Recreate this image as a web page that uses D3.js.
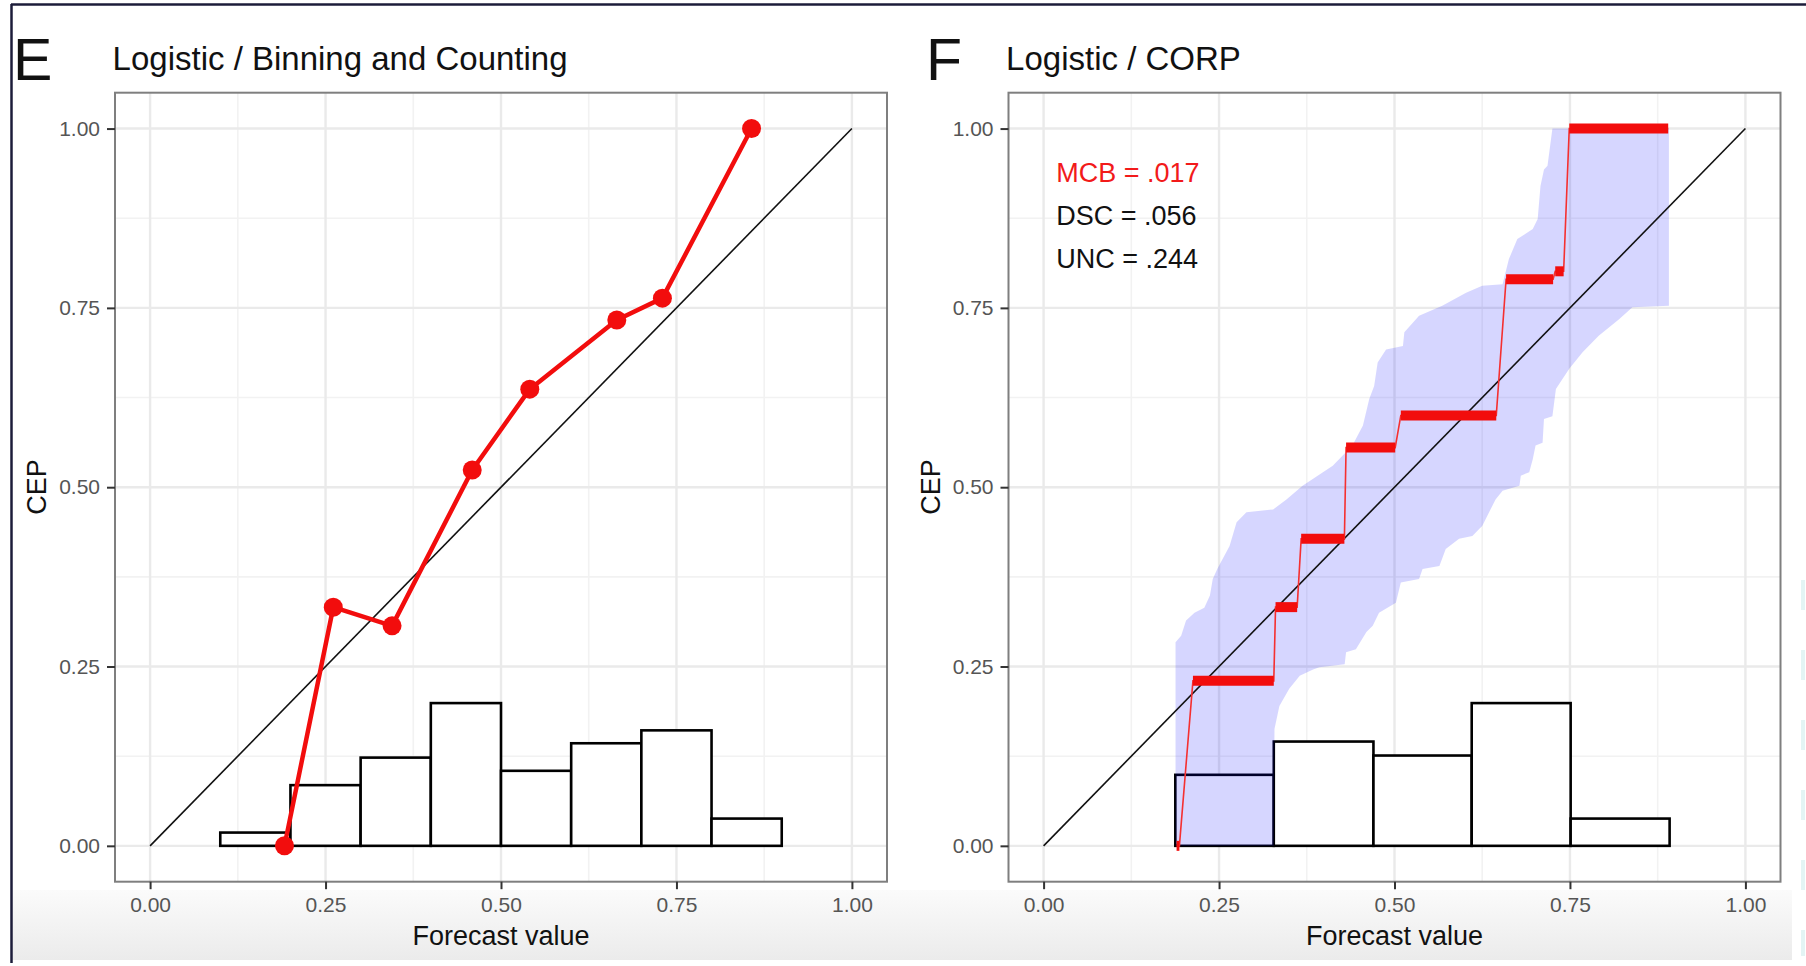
<!DOCTYPE html>
<html>
<head>
<meta charset="utf-8">
<script src="https://cdnjs.cloudflare.com/ajax/libs/d3/7.8.5/d3.min.js"></script>
<style>
  body { margin: 0; background: #fff; }
  svg { display: block; font-family: 'Liberation Sans', Arial, Helvetica, sans-serif; }
</style>
</head>
<body>
<script>
let w = 1806;
let h = 966;

// axis ticks (both panels)
let tickValues = [0, 0.25, 0.5, 0.75, 1];
let tickLabels = ['0.00', '0.25', '0.50', '0.75', '1.00'];
let minorTicks = [0.125, 0.375, 0.625, 0.875];

// panel E: binning and counting
let binX = [0.1915, 0.261, 0.3448, 0.459, 0.541, 0.665, 0.730, 0.857];
let binY = [0.0, 0.3327, 0.3067, 0.524, 0.6367, 0.733, 0.7636, 1.0];
let histEdgesE = [0, 0.1, 0.2, 0.3, 0.4, 0.5, 0.6, 0.7, 0.8, 0.9, 1.0];
let histE = [0, 0.0185, 0.0846, 0.123, 0.199, 0.1046, 0.143, 0.161, 0.038, 0];

// panel F: CORP
let histEdgesF = [0.1877, 0.328, 0.470, 0.610, 0.751, 0.892];
let histF = [0.099, 0.1454, 0.1259, 0.199, 0.038];
let corpX0 = [0.1895, 0.2128, 0.3305, 0.367, 0.431, 0.509, 0.659, 0.729, 0.749];
let corpX1 = [0.1935, 0.328, 0.3613, 0.4286, 0.501, 0.645, 0.726, 0.741, 0.890];
let corpY = [0, 0.230, 0.3328, 0.428, 0.5552, 0.600, 0.790, 0.801, 1.0];
let bandUpX = [0.188, 0.196, 0.203, 0.215, 0.229, 0.237, 0.241, 0.248, 0.265, 0.275,
  0.289, 0.327, 0.346, 0.369, 0.412, 0.440, 0.455, 0.464, 0.471, 0.476,
  0.488, 0.512, 0.514, 0.535, 0.568, 0.602, 0.625, 0.654, 0.663, 0.675,
  0.697, 0.704, 0.708, 0.713, 0.718, 0.725, 0.891];
let bandUpY = [0.284, 0.293, 0.314, 0.325, 0.332, 0.349, 0.372, 0.387, 0.418, 0.451,
  0.465, 0.469, 0.483, 0.502, 0.530, 0.558, 0.586, 0.623, 0.641, 0.674,
  0.692, 0.697, 0.716, 0.739, 0.753, 0.771, 0.781, 0.783, 0.818, 0.846,
  0.860, 0.874, 0.920, 0.943, 0.948, 1.0, 1.0];
let bandLoX = [0.188, 0.328, 0.329, 0.336, 0.350, 0.365, 0.384, 0.393, 0.429, 0.431,
  0.445, 0.460, 0.469, 0.478, 0.502, 0.509, 0.535, 0.540, 0.564, 0.573,
  0.592, 0.611, 0.621, 0.625, 0.644, 0.654, 0.678, 0.680, 0.692, 0.697,
  0.701, 0.711, 0.713, 0.725, 0.730, 0.749, 0.768, 0.791, 0.820, 0.839, 0.891];
let bandLoY = [0, 0, 0.163, 0.195, 0.219, 0.237, 0.246, 0.249, 0.253, 0.270,
  0.274, 0.298, 0.307, 0.325, 0.339, 0.367, 0.372, 0.386, 0.390, 0.414,
  0.428, 0.432, 0.442, 0.446, 0.483, 0.495, 0.502, 0.516, 0.521, 0.539,
  0.558, 0.562, 0.595, 0.599, 0.637, 0.665, 0.688, 0.711, 0.734, 0.751, 0.753];
let statLabels = ['MCB = .017', 'DSC = .056', 'UNC = .244'];
let statColors = ['#f21a1a', '#111', '#111'];

let svg = d3.select('body')
  .append('svg')
  .attr('width', w)
  .attr('height', h);

svg.append('rect')
  .attr('width', w)
  .attr('height', h)
  .attr('fill', '#fff');

// soft grey strip at the bottom of the screenshot
let grad = svg.append('defs')
  .append('linearGradient')
  .attr('id', 'bottom-fade')
  .attr('x1', 0).attr('y1', 0)
  .attr('x2', 0).attr('y2', 1);
grad.append('stop').attr('offset', '0%').attr('stop-color', '#fbfbfb');
grad.append('stop').attr('offset', '100%').attr('stop-color', '#ebebeb');

svg.append('rect')
  .attr('x', 12)
  .attr('y', 890)
  .attr('width', 1780)
  .attr('height', 70)
  .attr('fill', 'url(#bottom-fade)');

// outer frame (top and left edges)
svg.append('line')
  .attr('x1', 11).attr('y1', 4.5)
  .attr('x2', w).attr('y2', 4.5)
  .attr('stroke', '#1c1c3a')
  .attr('stroke-width', 2.5);
svg.append('line')
  .attr('x1', 11.5).attr('y1', 4)
  .attr('x2', 11.5).attr('y2', 963)
  .attr('stroke', '#1c1c3a')
  .attr('stroke-width', 2.5);

svg.append('line')
  .attr('x1', 1803).attr('y1', 580)
  .attr('x2', 1803).attr('y2', 956)
  .attr('stroke', '#e3f4f4')
  .attr('stroke-width', 4)
  .attr('stroke-dasharray', '30 40');

function makePanel(left, tagX, tag, title) {
  let top = 92.7;
  let bottom = 881.7;
  let right = left + 772;

  let x = d3.scaleLinear().domain([-0.05, 1.05]).range([left, right]);
  let y = d3.scaleLinear().domain([-0.05, 1.05]).range([bottom, top]);

  let g = svg.append('g');

  g.append('rect')
    .attr('x', left)
    .attr('y', top)
    .attr('width', right - left)
    .attr('height', bottom - top)
    .attr('fill', '#fff');

  let grid = g.append('g');
  grid.selectAll('.vminor')
    .data(minorTicks)
    .enter()
    .append('line')
    .attr('x1', (d) => x(d)).attr('x2', (d) => x(d))
    .attr('y1', top).attr('y2', bottom)
    .attr('stroke', '#f2f2f2')
    .attr('stroke-width', 1.6);
  grid.selectAll('.hminor')
    .data(minorTicks)
    .enter()
    .append('line')
    .attr('y1', (d) => y(d)).attr('y2', (d) => y(d))
    .attr('x1', left).attr('x2', right)
    .attr('stroke', '#f2f2f2')
    .attr('stroke-width', 1.6);
  grid.selectAll('.vmajor')
    .data(tickValues)
    .enter()
    .append('line')
    .attr('x1', (d) => x(d)).attr('x2', (d) => x(d))
    .attr('y1', top).attr('y2', bottom)
    .attr('stroke', '#eaeaea')
    .attr('stroke-width', 2.4);
  grid.selectAll('.hmajor')
    .data(tickValues)
    .enter()
    .append('line')
    .attr('y1', (d) => y(d)).attr('y2', (d) => y(d))
    .attr('x1', left).attr('x2', right)
    .attr('stroke', '#eaeaea')
    .attr('stroke-width', 2.4);

  let data = g.append('g');
  let frame = g.append('g');

  frame.append('rect')
    .attr('x', left)
    .attr('y', top)
    .attr('width', right - left)
    .attr('height', bottom - top)
    .attr('fill', 'none')
    .attr('stroke', '#7f7f7f')
    .attr('stroke-width', 2);

  let xAxis = d3.axisBottom(x)
    .tickValues(tickValues)
    .tickFormat((d, i) => tickLabels[i])
    .tickSize(7.5)
    .tickPadding(8);

  let yAxis = d3.axisLeft(y)
    .tickValues(tickValues)
    .tickFormat((d, i) => tickLabels[i])
    .tickSize(8)
    .tickPadding(7);

  let gx = frame.append('g')
    .attr('transform', 'translate(0, ' + bottom + ')')
    .call(xAxis);
  let gy = frame.append('g')
    .attr('transform', 'translate(' + left + ', 0)')
    .call(yAxis);

  [gx, gy].forEach((a) => {
    a.attr('font-family', null).attr('font-size', 21);
    a.select('.domain').remove();
    a.selectAll('line').attr('stroke', '#333').attr('stroke-width', 2);
    a.selectAll('text').attr('fill', '#555');
  });

  frame.append('text')
    .attr('x', (left + right) / 2)
    .attr('y', 945)
    .attr('text-anchor', 'middle')
    .attr('font-size', 27)
    .attr('fill', '#111')
    .text('Forecast value');

  frame.append('text')
    .attr('transform', 'translate(' + (left - 69) + ', 487) rotate(-90)')
    .attr('text-anchor', 'middle')
    .attr('font-size', 27)
    .attr('fill', '#111')
    .text('CEP');

  svg.append('text')
    .attr('x', tagX)
    .attr('y', 80)
    .attr('font-size', 59)
    .attr('fill', '#111')
    .text(tag);

  svg.append('text')
    .attr('x', left - 2.4)
    .attr('y', 69.5)
    .attr('font-size', 33)
    .attr('fill', '#111')
    .text(title);

  return { g: data, x: x, y: y, left: left };
}

function drawHist(p, edges, heights) {
  p.g.append('g')
    .selectAll('rect')
    .data(heights)
    .enter()
    .append('rect')
    .attr('x', (d, i) => p.x(edges[i]))
    .attr('y', (d) => p.y(d))
    .attr('width', (d, i) => p.x(edges[i + 1]) - p.x(edges[i]))
    .attr('height', (d) => p.y(0) - p.y(d))
    .attr('fill', '#fff')
    .attr('stroke', '#000')
    .attr('stroke-width', 2.6);
}

function drawDiagonal(p) {
  p.g.append('line')
    .attr('x1', p.x(0)).attr('y1', p.y(0))
    .attr('x2', p.x(1)).attr('y2', p.y(1))
    .attr('stroke', '#111')
    .attr('stroke-width', 1.6);
}

// ---- panel E ----
let pE = makePanel(115, 13, 'E', 'Logistic / Binning and Counting');
drawHist(pE, histEdgesE, histE);
drawDiagonal(pE);

let ptsE = binX.map((d, i) => [d, binY[i]]);

pE.g.append('path')
  .datum(ptsE)
  .attr('fill', 'none')
  .attr('stroke', '#f20d0d')
  .attr('stroke-width', 4.5)
  .attr('stroke-linejoin', 'round')
  .attr('d', d3.line().x((d) => pE.x(d[0])).y((d) => pE.y(d[1])));

pE.g.selectAll('circle')
  .data(ptsE)
  .enter()
  .append('circle')
  .attr('cx', (d) => pE.x(d[0]))
  .attr('cy', (d) => pE.y(d[1]))
  .attr('r', 9.5)
  .attr('fill', '#f20d0d');

// ---- panel F ----
let pF = makePanel(1008.5, 926, 'F', 'Logistic / CORP');
drawHist(pF, histEdgesF, histF);

let bandPts = bandUpX.map((d, i) => [d, bandUpY[i]]);
for (let i = bandLoX.length - 1; i >= 0; i--) {
  bandPts.push([bandLoX[i], bandLoY[i]]);
}

pF.g.append('path')
  .datum(bandPts)
  .attr('fill', '#0000ff')
  .attr('fill-opacity', 0.16)
  .attr('d', d3.line().x((d) => pF.x(d[0])).y((d) => pF.y(d[1])));

drawDiagonal(pF);

let corpPts = [];
corpY.forEach((d, i) => {
  corpPts.push([corpX0[i], d]);
  corpPts.push([corpX1[i], d]);
});

pF.g.append('path')
  .datum(corpPts)
  .attr('fill', 'none')
  .attr('stroke', '#f53030')
  .attr('stroke-width', 1.6)
  .attr('d', d3.line().x((d) => pF.x(d[0])).y((d) => pF.y(d[1])));

pF.g.selectAll('.seg')
  .data(corpY)
  .enter()
  .append('line')
  .attr('x1', (d, i) => pF.x(corpX0[i]))
  .attr('x2', (d, i) => pF.x(corpX1[i]))
  .attr('y1', (d) => pF.y(d))
  .attr('y2', (d) => pF.y(d))
  .attr('stroke', '#f20d0d')
  .attr('stroke-width', 10);

pF.g.selectAll('.stat')
  .data(statLabels)
  .enter()
  .append('text')
  .attr('x', pF.left + 47.8)
  .attr('y', (d, i) => 181.7 + i * 43.2)
  .attr('font-size', 27)
  .attr('fill', (d, i) => statColors[i])
  .text((d) => d);
</script>
</body>
</html>
